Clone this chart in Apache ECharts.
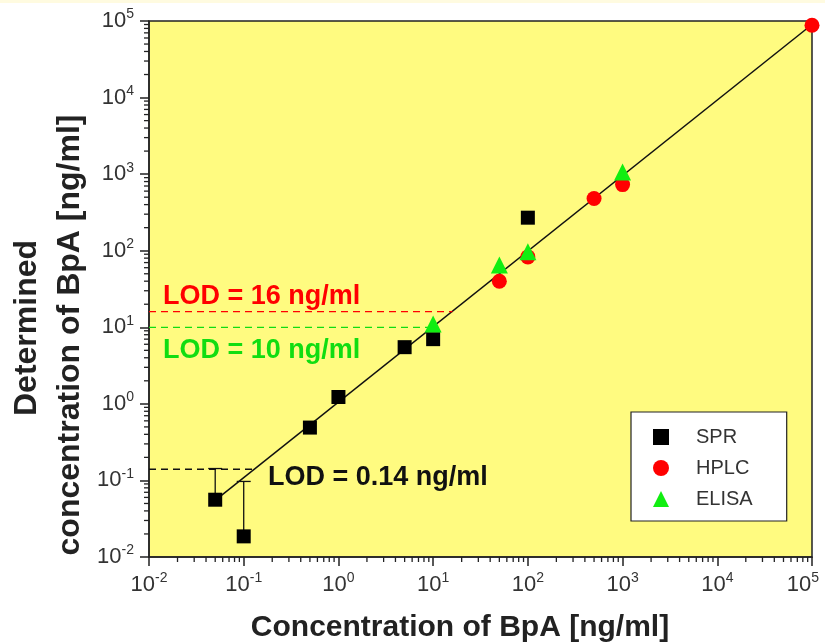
<!DOCTYPE html>
<html>
<head>
<meta charset="utf-8">
<script src="https://cdn.jsdelivr.net/npm/echarts@6/dist/echarts.min.js"></script>
<style>
  html, body { margin: 0; padding: 0; background: #ffffff; }
  #chart { width: 825px; height: 643px; }
</style>
</head>
<body>
<div id="chart"></div>
<script>
// measured points, [concentration, determined]
const sprData = [[0.05, 0.056], [0.1, 0.0186], [0.5, 0.49], [1, 1.23], [5, 5.5], [10, 7.0], [100, 270]];
const hplcData = [[50, 40], [100, 83], [500, 480], [1000, 730], [100000, 88000]];
const elisaData = [[10, 11], [50, 65], [100, 97], [1000, 1070]];
// error bars for SPR: [x, low, high]
const sprErrors = [[0.05, 0.056, 0.143], [0.1, 0.0186, 0.097]];
// linear fit
const fitLine = [[0.05, 0.055], [100000, 90000]];
// LOD dashed lines
const lodBlack = [[0.01, 0.14], [0.135, 0.14]];
const lodRed = [[0.01, 16], [16, 16]];
const lodGreen = [[0.01, 10], [10, 10]];
const decades = [-2, -1, 0, 1, 2, 3, 4];

// minor ticks 2..9 of every decade
const minorX = [], minorY = [];
decades.forEach(function (d) {
  for (let m = 2; m <= 9; m++) {
    minorX.push([m * Math.pow(10, d), 0]);
    minorY.push([m * Math.pow(10, d), 1]);
  }
});

const chart = echarts.init(document.getElementById('chart'));

function expText(v) {
  const e = Math.round(Math.log10(v));
  return e < 0 ? '-' + (-e) : String(e);
}
function yLabel(v) {
  return '{b|10}{s|' + expText(v) + '}';
}
function xLabel(v) {
  // last label is pulled left so it stays inside the picture
  if (Math.round(Math.log10(v)) === 5) return '{b|10}{e|5}';
  return '{b|10}{s|' + expText(v) + '}';
}
const labelRich = {
  b: { fontSize: 22, color: '#333', fontFamily: 'Liberation Sans' },
  s: { fontSize: 14, color: '#333', fontFamily: 'Liberation Sans', padding: [0, 0, 13, 0] },
  e: { fontSize: 14, color: '#333', fontFamily: 'Liberation Sans', padding: [0, 18, 13, 0] }
};
const titleFont = 'bold 30px "Liberation Sans"';
const yTitleFont = 'bold 32px "Liberation Sans"';
const lodFont = 'bold 27px "Liberation Sans"';

const option = {
  backgroundColor: '#ffffff',
  animation: false,
  grid: {
    left: 149, top: 21, right: 13, bottom: 86,
    outerBoundsMode: 'none', containLabel: false,
    show: true, backgroundColor: '#fffb80',
    borderColor: '#222', borderWidth: 1.5
  },
  legend: {
    data: [
      { name: 'SPR', icon: 'rect' },
      { name: 'HPLC', icon: 'circle' },
      { name: 'ELISA', icon: 'triangle' }
    ],
    orient: 'vertical',
    left: 631, top: 412,
    backgroundColor: '#ffffff',
    borderColor: '#222', borderWidth: 1.2, borderRadius: 0,
    padding: [15, 34, 12, 22],
    itemWidth: 16, itemHeight: 16, itemGap: 11,
    textStyle: { fontSize: 20, color: '#333', fontFamily: 'Liberation Sans', padding: [0, 0, 0, 22] }
  },
  xAxis: {
    type: 'log', logBase: 10, min: 0.01, max: 100000, splitNumber: 7,
    axisLine: { lineStyle: { color: '#222', width: 1.5 } },
    axisTick: { inside: false, length: 9, lineStyle: { color: '#222', width: 1.5 } },
    axisLabel: { formatter: xLabel, rich: labelRich, margin: 14 },
    splitLine: { show: false }
  },
  yAxis: {
    type: 'log', logBase: 10, min: 0.01, max: 100000, splitNumber: 7,
    axisLine: { lineStyle: { color: '#222', width: 1.5 } },
    axisTick: { inside: false, length: 9, lineStyle: { color: '#222', width: 1.5 } },
    axisLabel: { formatter: yLabel, rich: labelRich, margin: 15 },
    splitLine: { show: false }
  },
  graphic: [
    { type: 'rect', left: 0, top: 0, shape: { width: 825, height: 3 }, style: { fill: '#fffbe0' } },
    { type: 'text', x: 460, y: 628, style: { text: 'Concentration of BpA [ng/ml]', fill: '#222', font: titleFont, align: 'center', verticalAlign: 'middle' } },
    { type: 'text', x: 27, y: 328, rotation: Math.PI / 2, style: { text: 'Determined', fill: '#222', font: yTitleFont, align: 'center', verticalAlign: 'middle' } },
    { type: 'text', x: 70, y: 335, rotation: Math.PI / 2, style: { text: 'concentration of BpA [ng/ml]', fill: '#222', font: yTitleFont, align: 'center', verticalAlign: 'middle' } },
    { type: 'text', x: 163, y: 297, style: { text: 'LOD = 16 ng/ml', fill: '#ff0000', font: lodFont, verticalAlign: 'middle' } },
    { type: 'text', x: 163, y: 351, style: { text: 'LOD = 10 ng/ml', fill: '#11dd11', font: lodFont, verticalAlign: 'middle' } },
    { type: 'text', x: 268, y: 478, style: { text: 'LOD = 0.14 ng/ml', fill: '#111', font: lodFont, verticalAlign: 'middle' } }
  ],
  series: [
    {
      type: 'custom', name: 'minorX', data: minorX, clip: false, silent: true,
      renderItem: function (params, api) {
        const p = api.coord([api.value(0), 0.01]);
        return { type: 'line', shape: { x1: p[0], y1: p[1], x2: p[0], y2: p[1] + 5 }, style: { stroke: '#222', lineWidth: 1.3 } };
      }
    },
    {
      type: 'custom', name: 'minorY', data: minorY, clip: false, silent: true,
      renderItem: function (params, api) {
        const p = api.coord([0.01, api.value(0)]);
        return { type: 'line', shape: { x1: p[0], y1: p[1], x2: p[0] - 5, y2: p[1] }, style: { stroke: '#222', lineWidth: 1.3 } };
      }
    },
    {
      type: 'line', name: 'fit', data: fitLine, symbol: 'none',
      lineStyle: { color: '#111', width: 1.5 }, z: 3
    },
    {
      type: 'line', name: 'lodBlack', data: lodBlack, symbol: 'none',
      lineStyle: { color: '#111', width: 1.3, type: [7, 5] }
    },
    {
      type: 'line', name: 'lodRed', data: lodRed, symbol: 'none',
      lineStyle: { color: '#ff0000', width: 1.3, type: [7, 5] }
    },
    {
      type: 'line', name: 'lodGreen', data: lodGreen, symbol: 'none',
      lineStyle: { color: '#11dd11', width: 1.3, type: [7, 5] }
    },
    {
      type: 'custom', name: 'errors', data: sprErrors, z: 4,
      renderItem: function (params, api) {
        const lo = api.coord([api.value(0), api.value(1)]);
        const hi = api.coord([api.value(0), api.value(2)]);
        const style = { stroke: '#111', lineWidth: 1.3 };
        return {
          type: 'group',
          children: [
            { type: 'line', shape: { x1: lo[0], y1: lo[1], x2: hi[0], y2: hi[1] }, style: style },
            { type: 'line', shape: { x1: hi[0] - 7, y1: hi[1], x2: hi[0] + 7, y2: hi[1] }, style: style }
          ]
        };
      }
    },
    {
      type: 'scatter', name: 'SPR', data: sprData, symbol: 'rect', symbolSize: 14,
      itemStyle: { color: '#000', opacity: 1 }, z: 5
    },
    {
      type: 'scatter', name: 'HPLC', data: hplcData, symbol: 'circle', symbolSize: 15,
      itemStyle: { color: '#ff0000', opacity: 1 }, z: 5
    },
    {
      type: 'scatter', name: 'ELISA', data: elisaData, symbol: 'triangle', symbolSize: 17,
      itemStyle: { color: '#11ee11', opacity: 1 }, z: 6
    }
  ]
};

chart.setOption(option);
</script>
</body>
</html>
